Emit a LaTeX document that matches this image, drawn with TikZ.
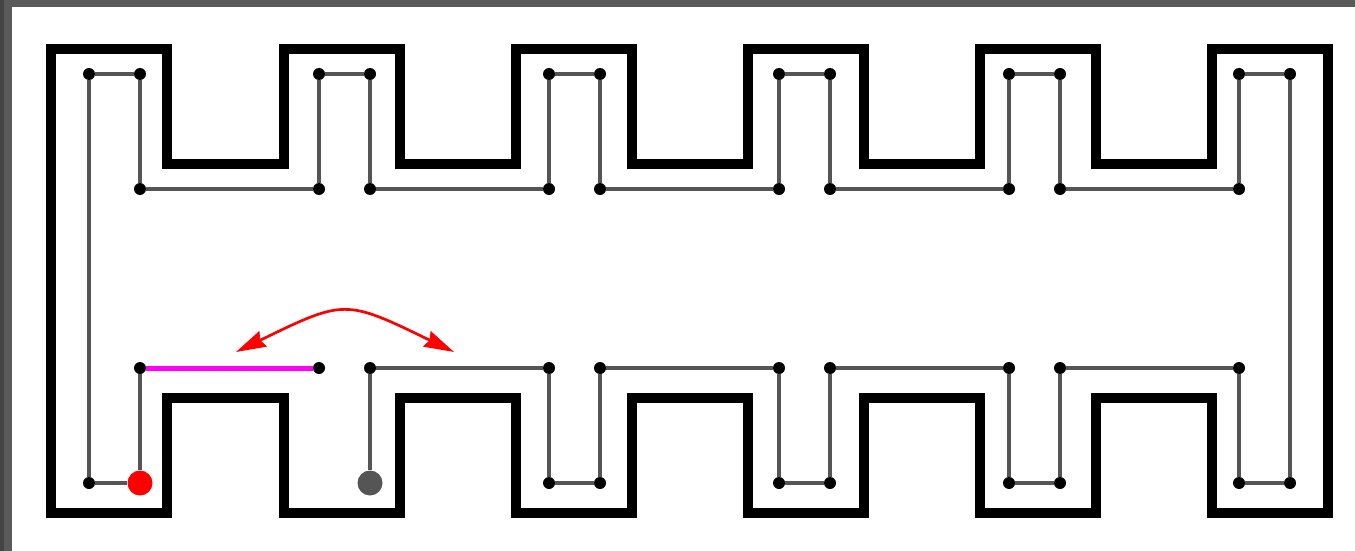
\documentclass[tikz,border=0pt]{standalone}
\usetikzlibrary{arrows.meta}
\definecolor{lgray}{HTML}{555555}
\definecolor{framegray}{HTML}{5A5A5A}
\definecolor{framedark}{HTML}{444444}
\definecolor{mag}{HTML}{FF00FF}
\tikzset{
  dotnode/.style={circle,fill=black,inner sep=0pt,minimum size=12pt},
  bigdot/.style={circle,inner sep=0pt,minimum size=25pt},
  wire/.style={draw=lgray,line width=4.5pt},
  hiwire/.style={draw=mag,line width=5pt},
  wall/.style={draw=black,line width=10pt,miter limit=10},
  swap/.style={draw=red,line width=2.7pt,{Stealth[length=30pt,width=17pt,inset=3pt]}-{Stealth[length=30pt,width=17pt,inset=3pt]}}
}
\begin{document}
\begin{tikzpicture}[x=1pt,y=-1pt]
\useasboundingbox (0,0) rectangle (1355,551);
\fill[white] (0,0) rectangle (1355,551);
\fill[framegray] (0,0) rectangle (1355,7);
\fill[framegray] (0,0) rectangle (12,551);
\fill[framedark] (0,0) rectangle (4,551);
% walls
\draw[wall] (51,49) -- (167,49) -- (167,164) -- (283.5,164) -- (283.5,49) -- (400,49) -- (400,164) -- (516,164) -- (516,49) -- (632,49) -- (632,164) -- (748,164) -- (748,49) -- (864,49) -- (864,164) -- (980,164) -- (980,49) -- (1096,49) -- (1096,164) -- (1212,164) -- (1212,49) -- (1328,49) -- (1328,513) -- (1212,513) -- (1212,397.5) -- (1096,397.5) -- (1096,513) -- (980,513) -- (980,397.5) -- (864,397.5) -- (864,513) -- (748,513) -- (748,397.5) -- (632,397.5) -- (632,513) -- (516,513) -- (516,397.5) -- (400,397.5) -- (400,513) -- (283.5,513) -- (283.5,397.5) -- (167,397.5) -- (167,513) -- (51,513) -- cycle;
% dots
\foreach \i/\x in {1/89,2/140,3/319,4/370,5/549,6/600,7/779,8/830,9/1009,10/1060,11/1239,12/1290}{
  \node[dotnode] (t\i) at (\x,74) {};
}
\foreach \i/\x in {2/140,3/319,4/370,5/549,6/600,7/779,8/830,9/1009,10/1060,11/1239}{
  \node[dotnode] (u\i) at (\x,189) {};
  \node[dotnode] (l\i) at (\x,368) {};
}
\foreach \i/\x in {1/89,5/549,6/600,7/779,8/830,9/1009,10/1060,11/1239,12/1290}{
  \node[dotnode] (b\i) at (\x,483) {};
}
\node[bigdot,fill=red] (b2) at (140,483) {};
\node[bigdot,fill=lgray] (b4) at (370,483) {};
% wires
\foreach \a/\b in {1/2,3/4,5/6,7/8,9/10,11/12}{ \draw[wire] (t\a) -- (t\b); }
\foreach \i in {2,...,11}{ \draw[wire] (t\i) -- (u\i); }
\draw[wire] (t1) -- (b1);
\draw[wire] (t12) -- (b12);
\foreach \a/\b in {2/3,4/5,6/7,8/9,10/11}{ \draw[wire] (u\a) -- (u\b); }
\foreach \a/\b in {1/2,5/6,7/8,9/10,11/12}{ \draw[wire] (b\a) -- (b\b); }
\foreach \i in {2,4,5,6,7,8,9,10,11}{ \draw[wire] (l\i) -- (b\i); }
\foreach \a/\b in {4/5,6/7,8/9,10/11}{ \draw[wire] (l\a) -- (l\b); }
\draw[hiwire] (l2) -- (l3);
% swap arrow
\coordinate (sa) at (236,352);
\coordinate (sb) at (454,352);
\draw[swap] (sa) .. controls (345,299) and (345,299) .. (sb);
\end{tikzpicture}
\end{document}
